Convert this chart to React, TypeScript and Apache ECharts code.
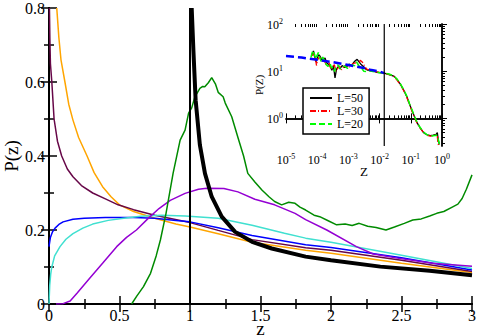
import React, { useEffect, useRef } from "react";
import * as echarts from "echarts";

// ---------- main panel data ----------
const zOrange = [0.055, 0.07, 0.085, 0.113, 0.14, 0.17, 0.21, 0.27, 0.32, 0.38, 0.44, 0.5, 0.6, 0.75, 0.9, 1.0, 1.2, 1.44, 1.82, 2.0, 2.5, 3.0];
const pOrange = [0.8, 0.72, 0.66, 0.6, 0.54, 0.497, 0.45, 0.4, 0.355, 0.317, 0.29, 0.268, 0.25, 0.232, 0.216, 0.208, 0.19, 0.167, 0.145, 0.137, 0.11, 0.085];

const zMaroon = [0.003, 0.006, 0.01, 0.02, 0.036, 0.06, 0.09, 0.13, 0.17, 0.23, 0.31, 0.4, 0.49, 0.6, 0.75, 1.0, 1.2, 1.44, 1.82, 2.0, 2.5, 3.0];
const pMaroon = [0.8, 0.72, 0.65, 0.6, 0.5, 0.44, 0.4, 0.365, 0.344, 0.32, 0.3, 0.284, 0.268, 0.255, 0.24, 0.22, 0.199, 0.174, 0.152, 0.145, 0.118, 0.088];

const zBlue = [0, 0.01, 0.025, 0.043, 0.07, 0.1, 0.17, 0.25, 0.4, 0.6, 0.75, 0.9, 1.0, 1.2, 1.44, 1.82, 2.0, 2.5, 3.0];
const pBlue = [0.155, 0.18, 0.195, 0.205, 0.215, 0.222, 0.229, 0.232, 0.234, 0.234, 0.232, 0.226, 0.222, 0.206, 0.185, 0.16, 0.153, 0.125, 0.092];

const zCyan = [0, 0.005, 0.012, 0.02, 0.04, 0.078, 0.12, 0.17, 0.24, 0.31, 0.42, 0.53, 0.65, 0.8, 0.965, 1.2, 1.44, 1.67, 1.82, 2.0, 2.5, 3.0];
const pCyan = [0, 0.05, 0.08, 0.1, 0.13, 0.155, 0.175, 0.19, 0.205, 0.216, 0.226, 0.232, 0.237, 0.24, 0.238, 0.232, 0.213, 0.191, 0.178, 0.167, 0.132, 0.096];

const zViolet = [0.05, 0.1, 0.15, 0.2, 0.29, 0.38, 0.48, 0.55, 0.62, 0.7, 0.78, 0.86, 0.965, 1.06, 1.12, 1.24, 1.34, 1.46, 1.6, 1.745, 1.82, 1.97, 2.18, 2.3, 2.47, 2.72, 3.0];
const pViolet = [0, 0.001, 0.008, 0.03, 0.07, 0.11, 0.155, 0.18, 0.2, 0.23, 0.258, 0.28, 0.299, 0.31, 0.313, 0.312, 0.303, 0.283, 0.268, 0.245, 0.228, 0.2, 0.155, 0.135, 0.124, 0.11, 0.102];

const zGreen = [0.586, 0.62, 0.67, 0.72, 0.76, 0.79, 0.83, 0.88, 0.93, 0.965, 0.99, 1.012, 1.035, 1.07, 1.09, 1.105, 1.13, 1.154, 1.18, 1.2, 1.235, 1.25, 1.296, 1.34, 1.38, 1.41, 1.46, 1.51, 1.56, 1.6, 1.65, 1.7, 1.745, 1.78, 1.82, 1.88, 1.92, 1.98, 2.04, 2.1, 2.15, 2.2, 2.26, 2.32, 2.39, 2.45, 2.52, 2.58, 2.64, 2.7, 2.75, 2.8, 2.86, 2.9, 2.93, 2.96, 3.0];
const pGreen = [0, 0.02, 0.047, 0.083, 0.13, 0.173, 0.245, 0.353, 0.443, 0.47, 0.516, 0.53, 0.56, 0.583, 0.588, 0.587, 0.598, 0.612, 0.595, 0.572, 0.56, 0.543, 0.506, 0.45, 0.4, 0.353, 0.33, 0.308, 0.29, 0.277, 0.268, 0.275, 0.272, 0.262, 0.254, 0.24, 0.236, 0.225, 0.214, 0.216, 0.212, 0.218, 0.21, 0.207, 0.2, 0.208, 0.218, 0.227, 0.23, 0.238, 0.245, 0.25, 0.262, 0.27, 0.285, 0.31, 0.349];

const zBlack = [1.012, 1.024, 1.04, 1.07, 1.106, 1.154, 1.225, 1.32, 1.44, 1.58, 1.82, 2.0, 2.35, 2.7, 3.0];
const pBlack = [0.8, 0.686, 0.551, 0.43, 0.353, 0.29, 0.236, 0.195, 0.168, 0.15, 0.128, 0.118, 0.101, 0.09, 0.078];

const zMarker = [1, 1];
const pMarker = [0, 0.8];

// ---------- inset data (Z, P(Z)) ----------
const zL50 = [6.8e-5, 7.6e-5, 8.3e-5, 9.1e-5, 1.0e-4, 1.12e-4, 1.23e-4, 1.38e-4, 1.58e-4, 1.78e-4, 2.0e-4, 2.29e-4, 2.63e-4, 2.95e-4, 3.31e-4, 3.72e-4, 4.17e-4, 4.79e-4, 5.37e-4, 6.31e-4, 7.59e-4, 8.91e-4, 1.05e-3, 1.26e-3, 1.45e-3, 1.66e-3, 1.91e-3, 2.19e-3, 2.51e-3, 3.02e-3, 3.55e-3, 4.17e-3, 5.01e-3, 6.31e-3, 7.94e-3, 1.0e-2, 1.41e-2, 2.0e-2, 2.82e-2, 3.55e-2, 4.57e-2, 5.89e-2, 7.59e-2, 9.12e-2, 0.11, 0.132, 0.158, 0.2, 0.257, 0.331, 0.427, 0.525, 0.646, 0.708, 0.759, 0.822];
const pL50 = [22.4, 26.9, 20.0, 15.8, 19.1, 22.4, 20.9, 17.8, 16.6, 19.1, 15.1, 14.1, 12.6, 10.5, 13.2, 7.2, 11.2, 12.6, 11.2, 13.2, 12.0, 12.6, 14.1, 13.2, 15.1, 16.6, 17.8, 15.8, 14.1, 12.6, 11.2, 10.5, 10.2, 10.0, 9.5, 9.3, 9.1, 8.5, 7.9, 6.8, 5.4, 4.0, 2.8, 2.0, 1.45, 1.07, 0.81, 0.63, 0.5, 0.45, 0.43, 0.44, 0.46, 0.5, 0.35, 0.28];

const zL30 = [7.1e-5, 7.9e-5, 8.7e-5, 9.5e-5, 1.05e-4, 1.17e-4, 1.29e-4, 1.45e-4, 1.62e-4, 1.86e-4, 2.09e-4, 2.4e-4, 2.75e-4, 3.16e-4, 3.55e-4, 3.98e-4, 4.57e-4, 5.25e-4, 6.03e-4, 7.08e-4, 8.32e-4, 1.0e-3, 1.2e-3, 1.41e-3, 1.7e-3, 2.04e-3, 2.4e-3, 2.82e-3, 3.31e-3, 3.89e-3, 4.68e-3, 5.62e-3, 7.08e-3, 1.0e-2, 1.41e-2, 2.0e-2, 2.82e-2, 3.55e-2, 4.57e-2, 5.89e-2, 7.59e-2, 9.12e-2, 0.11, 0.132, 0.158, 0.2, 0.257, 0.331, 0.427, 0.525, 0.646, 0.708, 0.74, 0.79];
const pL30 = [20.9, 24.5, 19.1, 13.2, 17.8, 20.0, 18.6, 16.2, 17.8, 14.5, 12.9, 15.1, 11.0, 12.0, 13.8, 10.0, 11.5, 12.9, 10.7, 12.3, 13.5, 12.0, 13.2, 14.5, 15.1, 13.8, 17.0, 15.5, 12.9, 11.0, 10.7, 10.0, 9.8, 9.4, 9.1, 8.6, 7.8, 6.6, 5.2, 3.9, 2.7, 1.95, 1.4, 1.05, 0.8, 0.62, 0.5, 0.44, 0.42, 0.43, 0.45, 0.42, 0.3, 0.26];

const zL20 = [6.3e-5, 7.2e-5, 8.1e-5, 8.9e-5, 9.8e-5, 1.1e-4, 1.2e-4, 1.35e-4, 1.51e-4, 1.7e-4, 1.95e-4, 2.24e-4, 2.57e-4, 2.88e-4, 3.24e-4, 3.63e-4, 4.07e-4, 4.68e-4, 5.5e-4, 6.46e-4, 7.76e-4, 9.33e-4, 1.1e-3, 1.32e-3, 1.55e-3, 1.82e-3, 2.14e-3, 2.57e-3, 3.09e-3, 3.72e-3, 4.47e-3, 5.5e-3, 7.08e-3, 1.0e-2, 1.41e-2, 2.0e-2, 2.82e-2, 3.55e-2, 4.57e-2, 5.89e-2, 7.59e-2, 9.12e-2, 0.11, 0.132, 0.158, 0.2, 0.257, 0.331, 0.427, 0.525, 0.646, 0.72, 0.78, 0.83];
const pL20 = [19.5, 27.5, 23.4, 18.2, 21.4, 25.1, 19.5, 15.8, 20.0, 17.0, 13.8, 12.6, 14.8, 11.7, 12.3, 9.8, 12.9, 13.5, 11.2, 12.0, 12.9, 11.5, 12.6, 13.8, 12.9, 15.8, 13.2, 12.0, 10.0, 9.8, 10.5, 10.0, 9.7, 9.3, 9.2, 8.7, 8.0, 6.9, 5.5, 4.1, 2.9, 2.05, 1.5, 1.1, 0.83, 0.64, 0.51, 0.45, 0.42, 0.43, 0.44, 0.43, 0.33, 0.28];

const zFit = [1e-5, 3.16e-5, 1e-4, 3.16e-4, 1e-3, 3.16e-3, 5e-3, 1.0e-2, 1.41e-2];
const pFit = [20.9, 19.5, 17.4, 15.5, 13.5, 11.7, 10.7, 9.8, 9.1];

const zInsetMarker = [1.41e-2, 1.41e-2];
const pInsetMarker = [0.26, 100];

// tick labels
const insetXTicks = [-5, -4, -3, -2, -1, 0];
const insetYTicks = [0, 1, 2];

const SERIF = "'Liberation Serif', 'DejaVu Serif', serif";

function pairs(xs: number[], ys: number[]) {
  return xs.map((x, i) => [x, ys[i]]);
}
function logPairs(xs: number[], ys: number[]) {
  return xs.map((x, i) => [Math.log10(x), Math.log10(ys[i])]);
}

export default function App() {
  const ref = useRef<HTMLDivElement>(null);
  useEffect(() => {
    document.body.style.margin = "0";
    if (!ref.current) return;
    const chart = echarts.init(ref.current, undefined, { renderer: "svg" });

    const Y_MIN = Math.log10(0.26);
    const minorX: number[] = [];
    for (let n = -5; n <= -1; n++) for (let k = 2; k <= 9; k++) minorX.push(n + Math.log10(k));
    const minorY: number[] = [];
    for (let n = -1; n <= 1; n++) for (let k = 2; k <= 9; k++) {
      const v = n + Math.log10(k);
      if (v > Y_MIN && v < 2) minorY.push(v);
    }

    const axLine = { show: true, lineStyle: { color: "#000", width: 2 } };
    const mainX = {
      type: "value", gridIndex: 0, min: 0, max: 3, interval: 0.5,
      axisLine: axLine, splitLine: { show: false },
      axisTick: { inside: true, length: 8, lineStyle: { color: "#000", width: 1.5 } },
      minorTick: { show: true, splitNumber: 2, length: 5, lineStyle: { color: "#000", width: 1.5 } },
    };
    const mainY = {
      type: "value", gridIndex: 0, min: 0, max: 0.8, interval: 0.2,
      axisLine: axLine, splitLine: { show: false },
      axisTick: { inside: true, length: 8, lineStyle: { color: "#000", width: 1.5 } },
      minorTick: { show: true, splitNumber: 2, length: 5, lineStyle: { color: "#000", width: 1.5 } },
    };

    const insetLine = { show: true, lineStyle: { color: "#000", width: 1.5 } };
    const supLabel = {
      show: true, margin: 6, color: "#000",
      formatter: (v: number) => `{b|10}{s|${Math.round(v)}}`,
      rich: {
        b: { fontFamily: SERIF, fontSize: 12, lineHeight: 14, color: "#000", verticalAlign: "bottom" },
        s: { fontFamily: SERIF, fontSize: 8, lineHeight: 14, color: "#000", verticalAlign: "top", padding: [0, 0, 5, 0] },
      },
    };

    const lineSeries = (name: string, data: number[][], color: string, width: number, xi = 0, yi = 0, type: any = "solid") => ({
      name, type: "line", data, xAxisIndex: xi, yAxisIndex: yi, showSymbol: false, symbol: "none",
      lineStyle: { color, width, type }, itemStyle: { color }, silent: true, z: 3,
    });

    chart.setOption({
      animation: false,
      backgroundColor: "#fff",
      grid: [
        { left: 49, top: 8, right: 5, bottom: 32, containLabel: false, outerBoundsMode: "none" },
        { left: 286, top: 24, right: 35, bottom: 190, containLabel: false, outerBoundsMode: "none", z: 10 },
      ],
      legend: {
        show: true, data: ["L=50", "L=30", "L=20"], orient: "vertical", left: 303, top: 88,
        itemWidth: 22, itemHeight: 10, itemGap: 1, padding: [4, 6, 4, 6],
        borderColor: "#000", borderWidth: 1.5, backgroundColor: "#fff", borderRadius: 0,
        itemStyle: { opacity: 0 },
        textStyle: { fontFamily: SERIF, fontSize: 12, color: "#000" }, z: 20,
      },
      xAxis: [
        {
          ...mainX, position: "bottom",
          axisLabel: { show: true, fontFamily: SERIF, fontSize: 16, lineHeight: 14, color: "#000", margin: 4 },
          name: "z", nameLocation: "middle", nameGap: 18, nameMoveOverlap: false,
          nameTextStyle: { fontFamily: SERIF, fontSize: 19, lineHeight: 12, color: "#000" },
        },
        { ...mainX, position: "top", axisLabel: { show: false } },
        // inset
        {
          type: "value", gridIndex: 1, min: -5, max: 0, interval: 1, position: "bottom",
          axisLine: insetLine, splitLine: { show: false },
          axisTick: { inside: true, length: 5, lineStyle: { color: "#000", width: 1 } },
          axisLabel: supLabel,
          name: "Z", nameLocation: "middle", nameGap: 19, nameMoveOverlap: false,
          nameTextStyle: { fontFamily: SERIF, fontSize: 13, color: "#000" },
        },
        {
          type: "value", gridIndex: 1, min: -5, max: 0, position: "bottom",
          axisLine: { show: false }, splitLine: { show: false }, axisLabel: { show: false },
          axisTick: { inside: true, length: 3, customValues: minorX, lineStyle: { color: "#000", width: 1 } },
        },
        {
          type: "value", gridIndex: 1, min: -5, max: 0, interval: 1, position: "top",
          axisLine: insetLine, splitLine: { show: false }, axisLabel: { show: false },
          axisTick: { inside: true, length: 5, lineStyle: { color: "#000", width: 1 } },
        },
        {
          type: "value", gridIndex: 1, min: -5, max: 0, position: "top",
          axisLine: { show: false }, splitLine: { show: false }, axisLabel: { show: false },
          axisTick: { inside: true, length: 3, customValues: minorX, lineStyle: { color: "#000", width: 1 } },
        },
      ],
      yAxis: [
        {
          ...mainY, position: "left",
          axisLabel: { show: true, fontFamily: SERIF, fontSize: 16, color: "#000", margin: 4 },
          name: "P(z)", nameLocation: "middle", nameGap: 28, nameRotate: 90, nameMoveOverlap: false,
          nameTextStyle: { fontFamily: SERIF, fontSize: 19, color: "#000" },
        },
        { ...mainY, position: "right", axisLabel: { show: false } },
        // inset
        {
          type: "value", gridIndex: 1, min: Y_MIN, max: 2, position: "left",
          axisLine: insetLine, splitLine: { show: false },
          axisTick: { inside: true, length: 5, customValues: insetYTicks, lineStyle: { color: "#000", width: 1 } },
          axisLabel: { ...supLabel, margin: 3, customValues: insetYTicks },
          name: "P(Z)", nameLocation: "middle", nameGap: 22, nameRotate: 90, nameMoveOverlap: false,
          nameTextStyle: { fontFamily: SERIF, fontSize: 11, color: "#000" },
        },
        {
          type: "value", gridIndex: 1, min: Y_MIN, max: 2, position: "left",
          axisLine: { show: false }, splitLine: { show: false }, axisLabel: { show: false },
          axisTick: { inside: true, length: 3, customValues: minorY, lineStyle: { color: "#000", width: 1 } },
        },
        {
          type: "value", gridIndex: 1, min: Y_MIN, max: 2, position: "right",
          axisLine: insetLine, splitLine: { show: false }, axisLabel: { show: false },
          axisTick: { show: false },
        },
      ],
      series: [
        lineSeries("orange", pairs(zOrange, pOrange), "#ffa500", 1.5),
        lineSeries("maroon", pairs(zMaroon, pMaroon), "#670748", 1.5),
        lineSeries("blue", pairs(zBlue, pBlue), "#0000ff", 1.5),
        lineSeries("turquoise", pairs(zCyan, pCyan), "#40e0d0", 1.5),
        lineSeries("violet", pairs(zViolet, pViolet), "#9400d3", 1.5),
        lineSeries("green", pairs(zGreen, pGreen), "#008b00", 1.5),
        lineSeries("marker", pairs(zMarker, pMarker), "#000", 2),
        lineSeries("theory", pairs(zBlack, pBlack), "#000", 4),
        // inset
        lineSeries("L=50", logPairs(zL50, pL50), "#000", 1.3, 2, 2),
        lineSeries("L=30", logPairs(zL30, pL30), "#ff0000", 1.3, 2, 2, [6, 2, 1, 2]),
        lineSeries("L=20", logPairs(zL20, pL20), "#00ff00", 1.5, 2, 2, [6, 3]),
        lineSeries("fit", logPairs(zFit, pFit), "#0000ff", 2.5, 2, 2, [8, 4]),
        lineSeries("insetMarker", logPairs(zInsetMarker, pInsetMarker), "#000", 1.2, 2, 2),
      ],
    });
    return () => chart.dispose();
  }, []);
  return <div ref={ref} style={{ width: 477, height: 336 }} />;
}
